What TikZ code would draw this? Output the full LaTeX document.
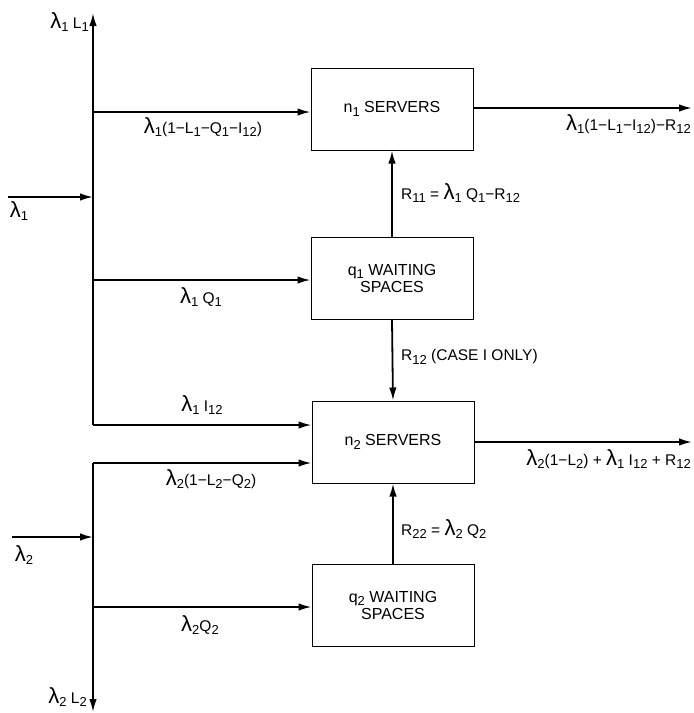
\documentclass[tikz,border=0pt]{standalone}
\usepackage{fontspec}
\setmainfont{Liberation Sans}
\usetikzlibrary{arrows.meta,positioning}
\newcommand{\lam}{{\fontsize{22}{22}\selectfont λ}}
\newcommand{\sub}[1]{\raisebox{-0.45ex}{\fontsize{13}{13}\selectfont#1}}
\begin{document}
\begin{tikzpicture}[x=1pt,y=-1pt,box/.style={draw,line width=1pt,minimum width=162pt,minimum height=82pt,align=center,font=\fontsize{16}{17}\selectfont},lbl/.style={inner sep=1pt,font=\fontsize{15.5}{17}\selectfont},flow/.style={line width=1.8pt,-{Latex[length=13pt,width=7.5pt]}},>=Stealth]
\useasboundingbox (0,0) rectangle (694,713);
\node[box](n1) at (392,109){n\sub{1} SERVERS};
\node[box](q1) at (392,278){q\sub{1} WAITING\\SPACES};
\node[box](n2) at (393,442){n\sub{2} SERVERS};
\node[box](q2) at (393,605){q\sub{2} WAITING\\SPACES};
\coordinate(top) at (93,13);\coordinate(j1) at (93,112);\coordinate(j2) at (93,280);\coordinate(j3) at (93,425);
\coordinate(j4) at (93,463);\coordinate(j5) at (93,607);\coordinate(bot) at (93,712);
\coordinate(in1) at (8,197);\coordinate(in2) at (12,537);\coordinate(o1) at (692,108);\coordinate(o2) at (692,442);
% first class
\draw[line width=1.8pt](j3)--(top|-j1);\draw[flow](j1)--(top);
\draw[flow](in1)--(in1-|j1);
\draw[flow](j1)--(j1-|n1.west);\draw[flow](j2)--(j2-|q1.west);\draw[flow](j3)--(j3-|n2.west);
% second class
\draw[flow](j4)--(bot);\draw[flow](in2)--(in2-|j4);
\draw[flow](j4)--(j4-|n2.west);\draw[flow](j5)--(j5-|q2.west);
% between boxes and out
\draw[flow](q1.north)--(n1.south);\draw[flow](q1.south)--(n2.north);\draw[flow](q2.north)--(n2.south);
\draw[flow](o1-|n1.east)--(o1);\draw[flow](o2-|n2.east)--(o2);
% labels
\node[lbl,anchor=east] at (90,22){\lam\sub{1} L\sub{1}};
\node[lbl] at (203,127){\lam\sub{1}(1−L\sub{1}−Q\sub{1}−I\sub{12})};
\node[lbl] at (19,211){\lam\sub{1}};
\node[lbl,anchor=east] at (692,124){\lam\sub{1}(1−L\sub{1}−I\sub{12})−R\sub{12}};
\node[lbl,anchor=west] at (400,193){R\sub{11} = \lam\sub{1} Q\sub{1}−R\sub{12}};
\node[lbl] at (201,297){\lam\sub{1} Q\sub{1}};
\node[lbl,anchor=west] at (400,357){R\sub{12} (CASE I ONLY)};
\node[lbl] at (202,405){\lam\sub{1} I\sub{12}};
\node[lbl] at (211,479){\lam\sub{2}(1−L\sub{2}−Q\sub{2})};
\node[lbl,anchor=east] at (692,459){\lam\sub{2}(1−L\sub{2}) + \lam\sub{1} I\sub{12} + R\sub{12}};
\node[lbl] at (24,555){\lam\sub{2}};
\node[lbl,anchor=west] at (400,529){R\sub{22} = \lam\sub{2} Q\sub{2}};
\node[lbl] at (200,625){\lam\sub{2}Q\sub{2}};
\node[lbl,anchor=east] at (88,697){\lam\sub{2} L\sub{2}};
\end{tikzpicture}
\end{document}
